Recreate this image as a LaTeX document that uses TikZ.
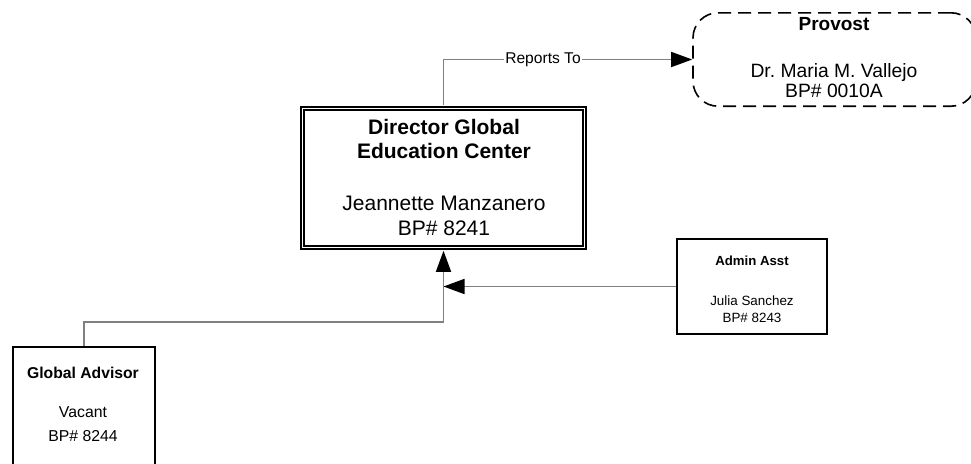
\documentclass[tikz,border=0pt]{standalone}
\usepackage{fontspec}
\setmainfont{Liberation Sans}
\usetikzlibrary{arrows.meta}
\definecolor{conngray}{RGB}{128,128,128}
\frenchspacing
\begin{document}
\begin{tikzpicture}[x=1pt,y=-1pt,
  box/.style={draw=black, line width=1.8pt, inner sep=0pt},
  dirbox/.style={draw=black, double, line width=1.6pt, double distance=1.8pt, inner sep=0pt},
  provbox/.style={draw=black, line width=1.6pt, dash pattern=on 13pt off 7pt, rounded corners=25pt, inner sep=0pt},
  conn/.style={draw=conngray, line width=1.6pt},
  tip/.style={-{Triangle[length=21pt,width=15pt,color=black]}},
  txt/.style={anchor=base, inner sep=0pt},
  fdir/.style={font=\fontsize{21}{25}\selectfont},
  fprov/.style={font=\fontsize{19.3}{22}\selectfont},
  fadm/.style={font=\fontsize{13.4}{16}\selectfont},
  fga/.style={font=\fontsize{15.8}{19}\selectfont},
]
\clip (0,0) rectangle (971,463);
\fill[white] (0,0) rectangle (971,463);

% boxes
\node[dirbox, minimum width=282pt, minimum height=139pt] (dir) at (443.5,178) {};
\node[provbox, minimum width=283pt, minimum height=93.4pt] (prov) at (834.5,59.5) {};
\node[box, minimum width=150.2pt, minimum height=95.2pt] (admin) at (752,286.5) {};
\node[box, minimum width=142.2pt, minimum height=143pt] (ga) at (84,418.5) {};

% connectors
\draw[conn, tip, shorten <=2.5pt] (dir.north) |- (prov.west);
\node[fill=white, inner sep=1pt, font=\fontsize{15.6}{18}\selectfont] (rt) at (543,59.5) {Reports To};
\draw[conn, tip] (admin.west) -- (admin.west -| dir.south);
\coordinate (gaj) at (84,322);
\draw[conn, tip, shorten >=2.5pt] (ga.north) -- (gaj) -| (dir.south);

% director text
\node[txt, font=\fontsize{21}{25}\selectfont\bfseries] (d1) at (444,134) {Director Global};
\node[txt, font=\fontsize{21}{25}\selectfont\bfseries] (d2) at (444,158) {Education Center};
\node[txt, fdir] (d3) at (444,210) {Jeannette Manzanero};
\node[txt, fdir] (d4) at (444,235) {BP\# 8241};

% provost text
\node[txt, font=\fontsize{19}{22}\selectfont\bfseries] (p1) at (834,30) {Provost};
\node[txt, fprov] (p2) at (834,77) {Dr. Maria M. Vallejo};
\node[txt, fprov] (p3) at (834,97) {BP\# 0010A};

% admin text
\node[txt, font=\fontsize{13.2}{16}\selectfont\bfseries] (a1) at (752,265) {Admin Asst};
\node[txt, fadm] (a2) at (752,305) {Julia Sanchez};
\node[txt, fadm] (a3) at (752,322) {BP\# 8243};

% global advisor text
\node[txt, font=\fontsize{15.7}{19}\selectfont\bfseries] (g1) at (83,378) {Global Advisor};
\node[txt, fga] (g2) at (83,417) {Vacant};
\node[txt, fga] (g3) at (83,441) {BP\# 8244};
\end{tikzpicture}
\end{document}
